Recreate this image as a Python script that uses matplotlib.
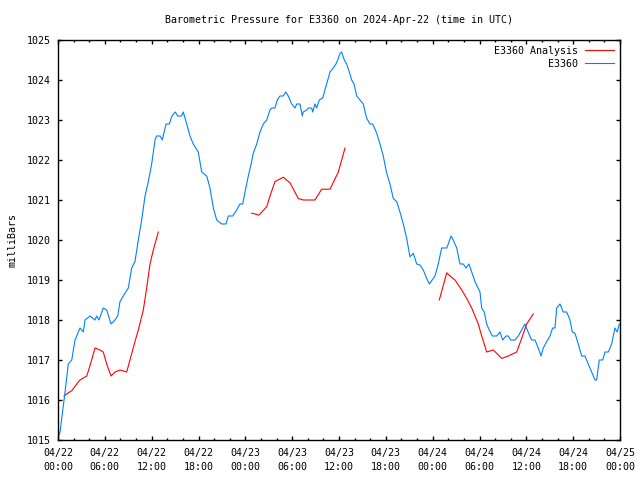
import numpy as np
import matplotlib
matplotlib.use("Agg")
import matplotlib.pyplot as plt
from matplotlib.ticker import MultipleLocator

# hours since 2024-04-22 00:00 UTC
obs_hours = [0.1, 0.26, 0.9, 1.32, 1.76, 2.18, 2.82, 3.24, 3.46, 4.1, 4.74, 4.96, 5.25, 5.8, 6.24,
             6.79, 7.3, 7.65, 7.94, 8.58, 9.01, 9.44, 9.86, 10.29, 10.72, 11.15, 11.57, 12.0,
             12.43, 12.64, 13.07, 13.36, 13.84, 14.26, 14.6, 15.03, 15.33, 15.85, 16.05, 16.49,
             16.91, 17.33, 17.97, 18.41, 19.05, 19.47, 19.9, 20.33, 20.97, 21.52, 21.82, 22.38,
             22.89, 23.32, 23.66, 23.96, 24.38, 24.81, 25.02, 25.46, 25.88, 26.3, 26.74, 27.16,
             27.38, 27.8, 28.09, 28.44, 28.86, 29.17, 29.5, 29.94, 30.36, 30.58, 31.0, 31.3,
             31.42, 31.86, 32.07, 32.5, 32.63, 32.92, 33.14, 33.47, 33.91, 34.2, 34.5, 34.85,
             35.27, 35.61, 35.83, 36.13, 36.34, 36.68, 36.98, 37.32, 37.62, 37.92, 38.27, 38.69,
             39.11, 39.55, 39.97, 40.32, 40.83, 41.25, 41.67, 42.11, 42.53, 42.95, 43.39, 43.81,
             44.24, 44.67, 45.09, 45.52, 45.95, 46.38, 46.8, 47.23, 47.57, 48.3, 48.72, 49.15,
             49.8, 50.0, 50.35, 50.64, 51.08, 51.5, 51.92, 52.27, 52.65, 53.0, 53.42, 54.06,
             54.28, 54.61, 54.92, 55.25, 55.64, 56.2, 56.62, 56.97, 57.39, 57.69, 57.99, 58.55,
             58.97, 59.4, 59.83, 60.12, 60.68, 61.11, 61.53, 61.88, 62.17, 62.61, 63.03, 63.37,
             63.67, 63.89, 64.31, 64.73, 65.17, 65.59, 65.89, 66.23, 66.65, 67.09, 67.51, 67.93,
             68.37, 68.79, 69.01, 69.34, 69.78, 70.08, 70.5, 70.93, 71.35, 71.65, 71.91]
obs_pres = [1015.1, 1015.2, 1016.2, 1016.9, 1017.0, 1017.5, 1017.8, 1017.7, 1018.0, 1018.1, 1018.0,
            1018.1, 1018.0, 1018.3, 1018.25, 1017.9, 1018.0, 1018.1, 1018.46, 1018.67, 1018.8,
            1019.3, 1019.46, 1020.0, 1020.5, 1021.1, 1021.46, 1021.9, 1022.5, 1022.6, 1022.6,
            1022.5, 1022.9, 1022.9, 1023.1, 1023.2, 1023.1, 1023.1, 1023.2, 1022.9, 1022.6,
            1022.4, 1022.2, 1021.7, 1021.6, 1021.3, 1020.8, 1020.5, 1020.4, 1020.4, 1020.6,
            1020.6, 1020.75, 1020.9, 1020.9, 1021.2, 1021.6, 1021.96, 1022.17, 1022.4, 1022.7,
            1022.9, 1023.0, 1023.25, 1023.3, 1023.3, 1023.5, 1023.6, 1023.6, 1023.7, 1023.6,
            1023.4, 1023.3, 1023.4, 1023.4, 1023.1, 1023.2, 1023.25, 1023.3, 1023.3, 1023.2,
            1023.4, 1023.3, 1023.5, 1023.55, 1023.75, 1023.96, 1024.2, 1024.3, 1024.4, 1024.5,
            1024.67, 1024.7, 1024.5, 1024.4, 1024.2, 1024.0, 1023.9, 1023.6, 1023.5, 1023.4,
            1023.04, 1022.9, 1022.9, 1022.67, 1022.4, 1022.1, 1021.67, 1021.4, 1021.04, 1020.96,
            1020.7, 1020.4, 1020.04, 1019.58, 1019.67, 1019.4, 1019.375, 1019.25, 1019.04, 1018.9,
            1019.1, 1019.4, 1019.8, 1019.8, 1019.9, 1020.1, 1020.0, 1019.8, 1019.4, 1019.4,
            1019.3, 1019.4, 1019.2, 1018.96, 1018.7, 1018.3, 1018.2, 1017.9, 1017.75, 1017.6,
            1017.6, 1017.7, 1017.5, 1017.6, 1017.6, 1017.5, 1017.5, 1017.6, 1017.75, 1017.9,
            1017.75, 1017.5, 1017.5, 1017.3, 1017.1, 1017.3, 1017.46, 1017.6, 1017.8, 1017.8,
            1018.3, 1018.4, 1018.2, 1018.2, 1018.0, 1017.7, 1017.67, 1017.4, 1017.1, 1017.1,
            1016.9, 1016.7, 1016.5, 1016.5, 1017.0, 1017.0, 1017.2, 1017.2, 1017.4, 1017.8,
            1017.7, 1017.9]

# analysis, three separate runs (NaN breaks the line)
ana_hours = [0.77, 1.32, 1.76, 2.4, 2.82, 3.68, 4.01, 4.74, 5.38, 5.8, 6.24, 6.79, 7.3, 7.94, 8.8,
             9.22, 9.86, 10.29, 10.93, 11.36, 11.79, 12.21, 12.85, np.nan,
             24.81, 25.24, 25.75, 26.74, 27.16, 27.8, 28.86, 29.72, 30.78, 31.42, 32.92, 33.78,
             34.85, 35.91, 36.77, np.nan,
             48.85, 49.8, 50.22, 50.86, 51.72, 52.36, 53.0, 53.84, 54.28, 54.92, 55.77, 56.84,
             57.69, 58.76, 59.4, 60.04, 60.89]
ana_pres = [1016.1, 1016.18, 1016.23, 1016.4, 1016.5, 1016.6, 1016.8, 1017.3, 1017.25, 1017.2,
            1016.9, 1016.6, 1016.7, 1016.75, 1016.7, 1017.0, 1017.46, 1017.75, 1018.25, 1018.8,
            1019.4, 1019.75, 1020.2, np.nan,
            1020.67, 1020.65, 1020.62, 1020.83, 1021.1, 1021.46, 1021.57, 1021.43, 1021.04,
            1021.0, 1021.0, 1021.27, 1021.27, 1021.7, 1022.3, np.nan,
            1018.5, 1019.18, 1019.1, 1019.0, 1018.75, 1018.54, 1018.3, 1017.9, 1017.6, 1017.2,
            1017.25, 1017.04, 1017.1, 1017.2, 1017.54, 1017.9, 1018.15]

tick_hours = list(range(0, 73, 6))
tick_labels = ["04/22\n00:00", "04/22\n06:00", "04/22\n12:00", "04/22\n18:00",
               "04/23\n00:00", "04/23\n06:00", "04/23\n12:00", "04/23\n18:00",
               "04/24\n00:00", "04/24\n06:00", "04/24\n12:00", "04/24\n18:00",
               "04/25\n00:00"]

plt.rcParams['font.family'] = 'DejaVu Sans Mono'
plt.rcParams['font.size'] = 7.2

fig = plt.figure(figsize=(6.4, 4.8), dpi=100)
ax = fig.add_axes([58 / 640, 40 / 480, 562 / 640, 400 / 480])

ax.plot(ana_hours, ana_pres, color='#ff0000', linewidth=0.8, label='E3360 Analysis')
ax.plot(obs_hours, obs_pres, color='#0080ff', linewidth=0.8, label='E3360')

ax.set_xlim(0, 72)
ax.set_ylim(1015, 1025)
ax.set_xticks(tick_hours)
ax.set_xticklabels(tick_labels, linespacing=1.5)
ax.xaxis.set_minor_locator(MultipleLocator(2))
ax.yaxis.set_major_locator(MultipleLocator(1))
ax.tick_params(which='both', direction='in', top=True, right=True, width=1)
ax.tick_params(which='major', length=3)
ax.tick_params(which='minor', length=1.6)
ax.tick_params(axis='x', pad=6)
ax.tick_params(axis='y', pad=5)
for s in ax.spines.values():
    s.set_linewidth(1)

ax.set_ylabel('milliBars', labelpad=7)
ax.set_title('Barometric Pressure for E3360 on 2024-Apr-22 (time in UTC)',
             fontsize=7.2, pad=12)

ax.legend(loc='upper right', frameon=False, markerfirst=False, handlelength=2.9,
          borderaxespad=0.3, borderpad=0.3, labelspacing=0.3, handletextpad=0.7)

fig.savefig('out.png', dpi=100)
